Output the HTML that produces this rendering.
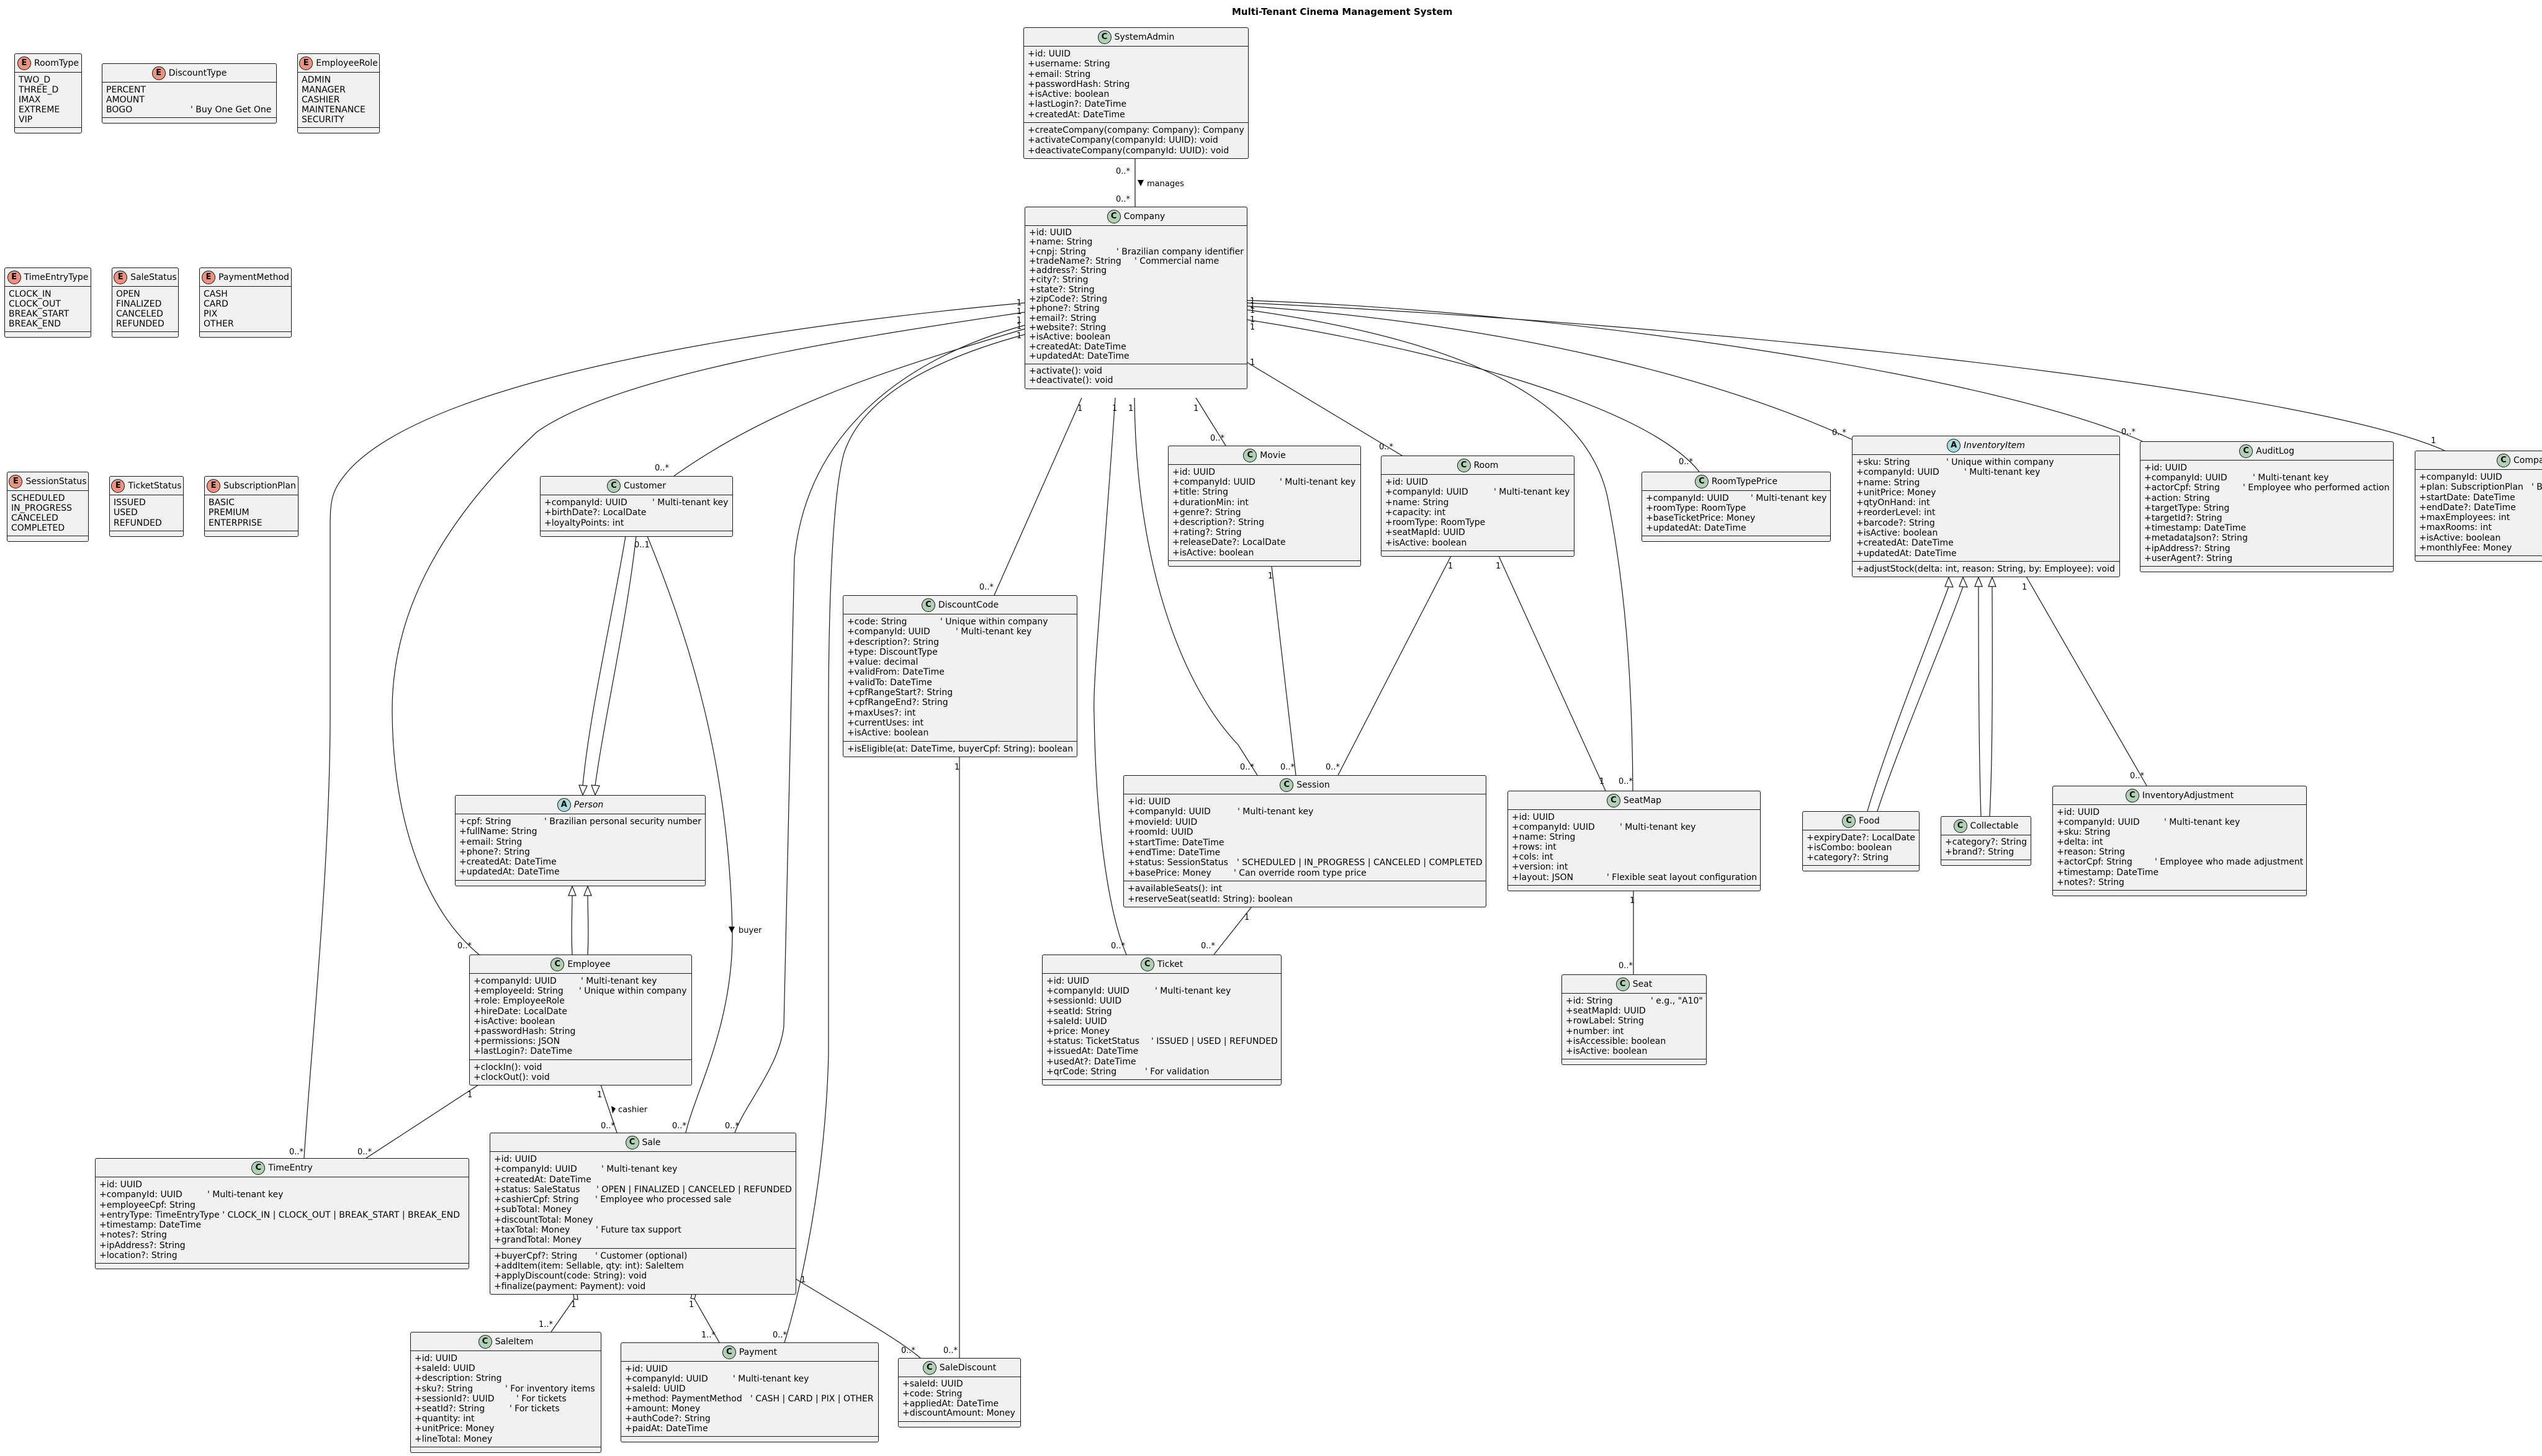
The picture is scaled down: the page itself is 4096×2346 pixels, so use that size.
<!DOCTYPE html>
<html><head><meta charset="utf-8">
<style>
html,body{margin:0;padding:0;background:#fff;overflow:hidden;}
body{width:4096px;height:2346px;position:relative;overflow:hidden;font-family:"DejaVu Sans","Liberation Sans",sans-serif;color:#000;}
.b{position:absolute;background:#F1F1F1;border:1px solid #181818;border-radius:3px;font-size:14px;box-sizing:content-box;}
.h{height:29px;display:flex;align-items:center;justify-content:center;gap:5px;font-size:14px;}
.ic{width:20px;height:20px;border-radius:50%;border:1px solid #181818;display:inline-flex;align-items:center;justify-content:center;font-weight:bold;font-size:13px;font-family:"DejaVu Sans",sans-serif;}
.c .ic{background:#ADD1B2;}
.e .ic{background:#EB937F;}
.a .ic{background:#A9DCDF;}
.a .h span.n{font-style:italic;}
.s{border-top:1px solid #181818;padding:4px 6px;}
.s.em{height:0;padding:4px 0;}
.r{position:relative;height:var(--lh);line-height:var(--lh);white-space:pre;}
.r i{position:absolute;top:0;font-style:normal;white-space:pre;}
svg{position:absolute;left:0;top:0;}
.t{position:absolute;font-weight:bold;font-size:15px;white-space:nowrap;}
.clip{position:absolute;left:3891px;top:700px;width:205px;height:260px;overflow:hidden;}
</style></head><body>
<div class="t" style="left:1985px;top:10px;">Multi-Tenant Cinema Management System</div>

<svg width="4096" height="2346" viewBox="0 0 4096 2346" font-family="DejaVu Sans, Liberation Sans, sans-serif" font-size="13">
<g fill="none" stroke="#181818" stroke-width="1.2">
<path d="M1829 255 L1829 333"/>
<path d="M1651 488 C1300 520 700 600 560 760 C535 790 532 803 532 850 L532 1150 C532 1400 500 1700 490 1866"/>
<path d="M1651 503 C1400 540 1000 600 865 696 C700 850 630 1000 632 1150 C634 1350 700 1480 772 1538"/>
<path d="M1651 530 C1450 590 1250 650 1086 767"/>
<path d="M1651 524 C1450 580 1300 700 1280 900 L1263 1654 C1255 1720 1200 1780 1184 1825"/>
<path d="M1651 539 C1500 580 1390 640 1360 730 C1340 800 1335 1000 1335 1150 L1335 1699 C1330 1900 1290 2080 1264 2163"/>
<path d="M1043 864 C1120 1050 1175 1250 1180 1500 C1182 1650 1120 1760 1105 1825"/>
<path d="M1008 864 C985 1000 950 1150 939 1266"/>
<path d="M1025 864 C1010 1000 975 1150 959 1266"/>
<path d="M922 1538 C920 1500 922 1470 922 1442"/>
<path d="M947 1538 C949 1500 947 1470 947 1442"/>
<path d="M771 1748 L590 1866"/>
<path d="M968 1748 L994 1825"/>
<path d="M925 2093 L888 2146"/>
<path d="M1119 2093 L1159 2163"/>
<path d="M1281 2060 C1380 2120 1450 2160 1483 2188"/>
<path d="M1546 1219 L1546 2188"/>
<path d="M1743 641 L1602 959"/>
<path d="M1797 641 C1780 900 1760 1100 1763 1150 C1766 1350 1790 1480 1815 1538"/>
<path d="M1828 641 C1830 900 1900 1100 1995 1200 L2026 1249"/>
<path d="M1927 641 L1975 718"/>
<path d="M2049 912 L2088 1249"/>
<path d="M2338 896 L2156 1249"/>
<path d="M2415 896 L2587 1274"/>
<path d="M2008 583 L2259 734"/>
<path d="M2008 499 C2300 540 2550 620 2590 800 C2620 950 2630 1100 2631 1274"/>
<path d="M2008 515 C2300 560 2650 650 2738 760"/>
<path d="M2008 493 C2400 520 2750 600 2984 708"/>
<path d="M2008 484 C2500 500 3200 600 3452 711"/>
<path d="M2008 488 C2700 520 3700 620 3939 726"/>
<path d="M3265 929 L3459 1266"/>
<path d="M3009 1307 C3040 1200 3120 1000 3140 945"/>
<path d="M3025 1307 C3060 1200 3145 1000 3163 945"/>
<path d="M3192 1315 C3188 1200 3188 1000 3188 945"/>
<path d="M3206 1315 C3212 1200 3210 1000 3210 945"/>
<path d="M2017 1461 L1956 1538"/>
<path d="M2632 1435 L2632 1570"/>
</g>
<g fill="#fff" stroke="#181818" stroke-width="1.2">
<polygon points="939,1281 933,1265 946,1266"/>
<polygon points="959,1281 953,1265 966,1266"/>
<polygon points="922,1428 916,1443 928,1443"/>
<polygon points="947,1428 941,1443 953,1443"/>
<polygon points="3140,930 3134,945 3147,946"/>
<polygon points="3163,930 3157,945 3170,946"/>
<polygon points="3188,930 3182,945 3194,945"/>
<polygon points="3210,930 3204,945 3216,945"/>
<polygon points="930,2085 931,2094 925,2093 924,2085"/>
<polygon points="1115,2085 1121,2086 1119,2093 1113,2092"/>
</g>
<g fill="#000">
<polygon points="1833,290 1843,290 1838,300"/>
<polygon points="1174,1493 1184,1493 1179,1503"/>
<polygon points="985,1782 992,1786 987,1794"/>
</g>
<g fill="#000">
<text x="1798" y="280">0..*</text>
<text x="1798" y="325">0..*</text>
<text x="1848" y="300">manages</text>
<text x="1638" y="492">1</text><text x="1638" y="506">1</text><text x="1638" y="520">1</text><text x="1638" y="530">1</text><text x="1638" y="545">1</text>
<text x="2014" y="489">1</text><text x="2014" y="497">1</text><text x="2014" y="504">1</text><text x="2014" y="519">1</text><text x="2014" y="531">1</text>
<text x="2014" y="588">1</text>
<text x="1736" y="662">1</text><text x="1792" y="662">1</text><text x="1818" y="662">1</text><text x="1923" y="662">1</text>
<text x="466" y="1860">0..*</text><text x="576" y="1860">0..*</text>
<text x="753" y="1768">1</text>
<text x="737" y="1528">0..*</text>
<text x="1055" y="758">0..*</text>
<text x="1022" y="882">0..1</text>
<text x="1190" y="1503">buyer</text>
<text x="962" y="1768">1</text>
<text x="996" y="1792">cashier</text>
<text x="968" y="1818">0..*</text><text x="1083" y="1818">0..*</text><text x="1168" y="1818">0..*</text>
<text x="920" y="2106">1</text><text x="1110" y="2106">1</text>
<text x="868" y="2138">1..*</text><text x="1130" y="2155">1..*</text><text x="1245" y="2155">0..*</text>
<text x="1290" y="2066">1</text>
<text x="1452" y="2180">0..*</text><text x="1520" y="2180">0..*</text>
<text x="1538" y="1240">1</text>
<text x="1578" y="950">0..*</text>
<text x="1950" y="710">0..*</text>
<text x="2222" y="724">0..*</text>
<text x="2043" y="932">1</text><text x="2333" y="916">1</text><text x="2410" y="916">1</text>
<text x="1998" y="1240">0..*</text><text x="2063" y="1240">0..*</text><text x="2136" y="1240">0..*</text>
<text x="2577" y="1263">1</text><text x="2608" y="1263">0..*</text>
<text x="2005" y="1482">1</text>
<text x="1790" y="1528">0..*</text><text x="1935" y="1528">0..*</text>
<text x="2626" y="1455">1</text><text x="2608" y="1560">0..*</text>
<text x="2705" y="748">0..*</text>
<text x="2952" y="701">0..*</text>
<text x="3418" y="700">0..*</text>
<text x="3917" y="714">1</text>
<text x="3258" y="950">1</text>
<text x="3432" y="1254">0..*</text>
</g>
</svg>

<!-- Enums -->
<div class="b e" style="left:23px;top:86px;width:107px;--lh:16px;"><div class="h"><span class="ic">E</span><span class="n">RoomType</span></div>
<div class="s"><div class="r">TWO_D</div><div class="r">THREE_D</div><div class="r">IMAX</div><div class="r">EXTREME</div><div class="r">VIP</div></div><div class="s em"></div></div>

<div class="b e" style="left:164px;top:102px;width:280px;--lh:16px;"><div class="h"><span class="ic">E</span><span class="n">DiscountType</span></div>
<div class="s"><div class="r">PERCENT</div><div class="r">AMOUNT</div><div class="r">BOGO<i style="left:136px">' Buy One Get One</i></div></div><div class="s em"></div></div>

<div class="b e" style="left:479px;top:86px;width:131px;--lh:16px;"><div class="h"><span class="ic">E</span><span class="n">EmployeeRole</span></div>
<div class="s"><div class="r">ADMIN</div><div class="r">MANAGER</div><div class="r">CASHIER</div><div class="r">MAINTENANCE</div><div class="r">SECURITY</div></div><div class="s em"></div></div>

<div class="b e" style="left:7px;top:431px;width:138px;--lh:16px;"><div class="h"><span class="ic">E</span><span class="n">TimeEntryType</span></div>
<div class="s"><div class="r">CLOCK_IN</div><div class="r">CLOCK_OUT</div><div class="r">BREAK_START</div><div class="r">BREAK_END</div></div><div class="s em"></div></div>

<div class="b e" style="left:180px;top:431px;width:106px;--lh:16px;"><div class="h"><span class="ic">E</span><span class="n">SaleStatus</span></div>
<div class="s"><div class="r">OPEN</div><div class="r">FINALIZED</div><div class="r">CANCELED</div><div class="r">REFUNDED</div></div><div class="s em"></div></div>

<div class="b e" style="left:321px;top:431px;width:147px;--lh:16px;"><div class="h"><span class="ic">E</span><span class="n">PaymentMethod</span></div>
<div class="s"><div class="r">CASH</div><div class="r">CARD</div><div class="r">PIX</div><div class="r">OTHER</div></div><div class="s em"></div></div>

<div class="b e" style="left:11px;top:760px;width:130px;--lh:16px;"><div class="h"><span class="ic">E</span><span class="n">SessionStatus</span></div>
<div class="s"><div class="r">SCHEDULED</div><div class="r">IN_PROGRESS</div><div class="r">CANCELED</div><div class="r">COMPLETED</div></div><div class="s em"></div></div>

<div class="b e" style="left:176px;top:767px;width:118px;--lh:16.3px;"><div class="h"><span class="ic">E</span><span class="n">TicketStatus</span></div>
<div class="s"><div class="r">ISSUED</div><div class="r">USED</div><div class="r">REFUNDED</div></div><div class="s em"></div></div>

<div class="b e" style="left:329px;top:767px;width:150px;--lh:16.3px;"><div class="h"><span class="ic">E</span><span class="n">SubscriptionPlan</span></div>
<div class="s"><div class="r">BASIC</div><div class="r">PREMIUM</div><div class="r">ENTERPRISE</div></div><div class="s em"></div></div>

<!-- Classes -->
<div class="b c" style="left:1649px;top:44px;width:361px;--lh:16.3px;"><div class="h"><span class="ic">C</span><span class="n">SystemAdmin</span></div>
<div class="s"><div class="r">+id: UUID</div><div class="r">+username: String</div><div class="r">+email: String</div><div class="r">+passwordHash: String</div><div class="r">+isActive: boolean</div><div class="r">+lastLogin?: DateTime</div><div class="r">+createdAt: DateTime</div></div>
<div class="s"><div class="r">+createCompany(company: Company): Company</div><div class="r">+activateCompany(companyId: UUID): void</div><div class="r">+deactivateCompany(companyId: UUID): void</div></div></div>

<div class="b c" style="left:1651px;top:333px;width:357px;--lh:15.3px;"><div class="h"><span class="ic">C</span><span class="n">Company</span></div>
<div class="s"><div class="r">+id: UUID</div><div class="r">+name: String</div><div class="r">+cnpj: String<i style="left:141px">' Brazilian company identifier</i></div><div class="r">+tradeName?: String<i style="left:170px">' Commercial name</i></div><div class="r">+address?: String</div><div class="r">+city?: String</div><div class="r">+state?: String</div><div class="r">+zipCode?: String</div><div class="r">+phone?: String</div><div class="r">+email?: String</div><div class="r">+website?: String</div><div class="r">+isActive: boolean</div><div class="r">+createdAt: DateTime</div><div class="r">+updatedAt: DateTime</div></div>
<div class="s"><div class="r">+activate(): void</div><div class="r">+deactivate(): void</div></div></div>

<div class="b c" style="left:870px;top:767px;width:309px;--lh:16.3px;"><div class="h"><span class="ic">C</span><span class="n">Customer</span></div>
<div class="s"><div class="r">+companyId: UUID<i style="left:174px">' Multi-tenant key</i></div><div class="r">+birthDate?: LocalDate</div><div class="r">+loyaltyPoints: int</div></div><div class="s em"></div></div>

<div class="b a" style="left:733px;top:1281px;width:402px;--lh:16.3px;"><div class="h"><span class="ic">A</span><span class="n">Person</span></div>
<div class="s"><div class="r">+cpf: String<i style="left:137px">' Brazilian personal security number</i></div><div class="r">+fullName: String</div><div class="r">+email: String</div><div class="r">+phone?: String</div><div class="r">+createdAt: DateTime</div><div class="r">+updatedAt: DateTime</div></div><div class="s em"></div></div>

<div class="b c" style="left:756px;top:1538px;width:357px;--lh:16.2px;"><div class="h"><span class="ic">C</span><span class="n">Employee</span></div>
<div class="s"><div class="r">+companyId: UUID<i style="left:173px">' Multi-tenant key</i></div><div class="r">+employeeId: String<i style="left:170px">' Unique within company</i></div><div class="r">+role: EmployeeRole</div><div class="r">+hireDate: LocalDate</div><div class="r">+isActive: boolean</div><div class="r">+passwordHash: String</div><div class="r">+permissions: JSON</div><div class="r">+lastLogin?: DateTime</div></div>
<div class="s"><div class="r">+clockIn(): void</div><div class="r">+clockOut(): void</div></div></div>

<div class="b c" style="left:153px;top:1866px;width:601px;--lh:16.25px;"><div class="h"><span class="ic">C</span><span class="n">TimeEntry</span></div>
<div class="s"><div class="r">+id: UUID</div><div class="r">+companyId: UUID<i style="left:174px">' Multi-tenant key</i></div><div class="r">+employeeCpf: String</div><div class="r">+entryType: TimeEntryType ' CLOCK_IN | CLOCK_OUT | BREAK_START | BREAK_END</div><div class="r">+timestamp: DateTime</div><div class="r">+notes?: String</div><div class="r">+ipAddress?: String</div><div class="r">+location?: String</div></div><div class="s em"></div></div>

<div class="b c" style="left:789px;top:1825px;width:492px;--lh:16.3px;"><div class="h"><span class="ic">C</span><span class="n">Sale</span></div>
<div class="s"><div class="r">+id: UUID</div><div class="r">+companyId: UUID<i style="left:173px">' Multi-tenant key</i></div><div class="r">+createdAt: DateTime</div><div class="r">+status: SaleStatus<i style="left:165px">' OPEN | FINALIZED | CANCELED | REFUNDED</i></div><div class="r">+cashierCpf: String<i style="left:163px">' Employee who processed sale</i></div><div class="r">+subTotal: Money</div><div class="r">+discountTotal: Money</div><div class="r">+taxTotal: Money<i style="left:164px">' Future tax support</i></div><div class="r">+grandTotal: Money</div></div>
<div class="s"><div class="r">+buyerCpf?: String<i style="left:163px">' Customer (optional)</i></div><div class="r">+addItem(item: Sellable, qty: int): SaleItem</div><div class="r">+applyDiscount(code: String): void</div><div class="r">+finalize(payment: Payment): void</div></div></div>

<div class="b c" style="left:661px;top:2146px;width:306px;--lh:16.2px;"><div class="h"><span class="ic">C</span><span class="n">SaleItem</span></div>
<div class="s"><div class="r">+id: UUID</div><div class="r">+saleId: UUID</div><div class="r">+description: String</div><div class="r">+sku?: String<i style="left:146px">' For inventory items</i></div><div class="r">+sessionId?: UUID<i style="left:164px">' For tickets</i></div><div class="r">+seatId?: String<i style="left:153px">' For tickets</i></div><div class="r">+quantity: int</div><div class="r">+unitPrice: Money</div><div class="r">+lineTotal: Money</div></div><div class="s em"></div></div>

<div class="b c" style="left:1000px;top:2163px;width:414px;--lh:16px;"><div class="h"><span class="ic">C</span><span class="n">Payment</span></div>
<div class="s"><div class="r">+id: UUID</div><div class="r">+companyId: UUID<i style="left:174px">' Multi-tenant key</i></div><div class="r">+saleId: UUID</div><div class="r">+method: PaymentMethod<i style="left:202px">' CASH | CARD | PIX | OTHER</i></div><div class="r">+amount: Money</div><div class="r">+authCode?: String</div><div class="r">+paidAt: DateTime</div></div><div class="s em"></div></div>

<div class="b c" style="left:1447px;top:2188px;width:196px;--lh:15.75px;"><div class="h"><span class="ic">C</span><span class="n">SaleDiscount</span></div>
<div class="s"><div class="r">+saleId: UUID</div><div class="r">+code: String</div><div class="r">+appliedAt: DateTime</div><div class="r">+discountAmount: Money</div></div><div class="s em"></div></div>

<div class="b c" style="left:1358px;top:959px;width:376px;--lh:16.3px;"><div class="h"><span class="ic">C</span><span class="n">DiscountCode</span></div>
<div class="s"><div class="r">+code: String<i style="left:150px">' Unique within company</i></div><div class="r">+companyId: UUID<i style="left:175px">' Multi-tenant key</i></div><div class="r">+description?: String</div><div class="r">+type: DiscountType</div><div class="r">+value: decimal</div><div class="r">+validFrom: DateTime</div><div class="r">+validTo: DateTime</div><div class="r">+cpfRangeStart?: String</div><div class="r">+cpfRangeEnd?: String</div><div class="r">+maxUses?: int</div><div class="r">+currentUses: int</div><div class="r">+isActive: boolean</div></div>
<div class="s"><div class="r">+isEligible(at: DateTime, buyerCpf: String): boolean</div></div></div>

<div class="b c" style="left:1882px;top:718px;width:309px;--lh:16.2px;"><div class="h"><span class="ic">C</span><span class="n">Movie</span></div>
<div class="s"><div class="r">+id: UUID</div><div class="r">+companyId: UUID<i style="left:173px">' Multi-tenant key</i></div><div class="r">+title: String</div><div class="r">+durationMin: int</div><div class="r">+genre?: String</div><div class="r">+description?: String</div><div class="r">+rating?: String</div><div class="r">+releaseDate?: LocalDate</div><div class="r">+isActive: boolean</div></div><div class="s em"></div></div>

<div class="b c" style="left:2225px;top:734px;width:310px;--lh:16.3px;"><div class="h"><span class="ic">C</span><span class="n">Room</span></div>
<div class="s"><div class="r">+id: UUID</div><div class="r">+companyId: UUID<i style="left:175px">' Multi-tenant key</i></div><div class="r">+name: String</div><div class="r">+capacity: int</div><div class="r">+roomType: RoomType</div><div class="r">+seatMapId: UUID</div><div class="r">+isActive: boolean</div></div><div class="s em"></div></div>

<div class="b c" style="left:1810px;top:1249px;width:583px;--lh:16.4px;"><div class="h"><span class="ic">C</span><span class="n">Session</span></div>
<div class="s"><div class="r">+id: UUID</div><div class="r">+companyId: UUID<i style="left:177px">' Multi-tenant key</i></div><div class="r">+movieId: UUID</div><div class="r">+roomId: UUID</div><div class="r">+startTime: DateTime</div><div class="r">+endTime: DateTime</div><div class="r">+status: SessionStatus<i style="left:176px">' SCHEDULED | IN_PROGRESS | CANCELED | COMPLETED</i></div><div class="r">+basePrice: Money<i style="left:171px">' Can override room type price</i></div></div>
<div class="s"><div class="r">+availableSeats(): int</div><div class="r">+reserveSeat(seatId: String): boolean</div></div></div>

<div class="b c" style="left:1679px;top:1538px;width:384px;--lh:16.2px;"><div class="h"><span class="ic">C</span><span class="n">Ticket</span></div>
<div class="s"><div class="r">+id: UUID</div><div class="r">+companyId: UUID<i style="left:175px">' Multi-tenant key</i></div><div class="r">+sessionId: UUID</div><div class="r">+seatId: String</div><div class="r">+saleId: UUID</div><div class="r">+price: Money</div><div class="r">+status: TicketStatus<i style="left:169px">' ISSUED | USED | REFUNDED</i></div><div class="r">+issuedAt: DateTime</div><div class="r">+usedAt?: DateTime</div><div class="r">+qrCode: String<i style="left:159px">' For validation</i></div></div><div class="s em"></div></div>

<div class="b c" style="left:2429px;top:1274px;width:406px;--lh:16.1px;"><div class="h"><span class="ic">C</span><span class="n">SeatMap</span></div>
<div class="s"><div class="r">+id: UUID</div><div class="r">+companyId: UUID<i style="left:174px">' Multi-tenant key</i></div><div class="r">+name: String</div><div class="r">+rows: int</div><div class="r">+cols: int</div><div class="r">+version: int</div><div class="r">+layout: JSON<i style="left:153px">' Flexible seat layout configuration</i></div></div><div class="s em"></div></div>

<div class="b c" style="left:2516px;top:1570px;width:232px;--lh:16.2px;"><div class="h"><span class="ic">C</span><span class="n">Seat</span></div>
<div class="s"><div class="r">+id: String<i style="left:137px">' e.g., "A10"</i></div><div class="r">+seatMapId: UUID</div><div class="r">+rowLabel: String</div><div class="r">+number: int</div><div class="r">+isAccessible: boolean</div><div class="r">+isActive: boolean</div></div><div class="s em"></div></div>

<div class="b c" style="left:2645px;top:760px;width:303px;--lh:16px;"><div class="h"><span class="ic">C</span><span class="n">RoomTypePrice</span></div>
<div class="s"><div class="r">+companyId: UUID<i style="left:169px">' Multi-tenant key</i></div><div class="r">+roomType: RoomType</div><div class="r">+baseTicketPrice: Money</div><div class="r">+updatedAt: DateTime</div></div><div class="s em"></div></div>

<div class="b a" style="left:2984px;top:702px;width:430px;--lh:16.3px;"><div class="h"><span class="ic">A</span><span class="n">InventoryItem</span></div>
<div class="s"><div class="r">+sku: String<i style="left:145px">' Unique within company</i></div><div class="r">+companyId: UUID<i style="left:174px">' Multi-tenant key</i></div><div class="r">+name: String</div><div class="r">+unitPrice: Money</div><div class="r">+qtyOnHand: int</div><div class="r">+reorderLevel: int</div><div class="r">+barcode?: String</div><div class="r">+isActive: boolean</div><div class="r">+createdAt: DateTime</div><div class="r">+updatedAt: DateTime</div></div>
<div class="s"><div class="r">+adjustStock(delta: int, reason: String, by: Employee): void</div></div></div>

<div class="b c" style="left:3448px;top:711px;width:407px;--lh:16.2px;"><div class="h"><span class="ic">C</span><span class="n">AuditLog</span></div>
<div class="s"><div class="r">+id: UUID</div><div class="r">+companyId: UUID<i style="left:175px">' Multi-tenant key</i></div><div class="r">+actorCpf: String<i style="left:159px">' Employee who performed action</i></div><div class="r">+action: String</div><div class="r">+targetType: String</div><div class="r">+targetId?: String</div><div class="r">+timestamp: DateTime</div><div class="r">+metadataJson?: String</div><div class="r">+ipAddress?: String</div><div class="r">+userAgent?: String</div></div><div class="s em"></div></div>

<div class="clip">
<div class="b c" style="left:0px;top:26px;width:380px;--lh:16.25px;"><div class="h" style="justify-content:flex-start;padding-left:131px;"><span class="ic">C</span><span class="n">Compan</span></div>
<div class="s"><div class="r">+companyId: UUID</div><div class="r">+plan: SubscriptionPlan<i style="left:181px">' B</i></div><div class="r">+startDate: DateTime</div><div class="r">+endDate?: DateTime</div><div class="r">+maxEmployees: int</div><div class="r">+maxRooms: int</div><div class="r">+isActive: boolean</div><div class="r">+monthlyFee: Money</div></div><div class="s em"></div></div>
</div>

<div class="b c" style="left:2904px;top:1307px;width:187px;--lh:16px;"><div class="h"><span class="ic">C</span><span class="n">Food</span></div>
<div class="s"><div class="r">+expiryDate?: LocalDate</div><div class="r">+isCombo: boolean</div><div class="r">+category?: String</div></div><div class="s em"></div></div>

<div class="b c" style="left:3127px;top:1315px;width:144px;--lh:15.5px;"><div class="h"><span class="ic">C</span><span class="n">Collectable</span></div>
<div class="s"><div class="r">+category?: String</div><div class="r">+brand?: String</div></div><div class="s em"></div></div>

<div class="b c" style="left:3307px;top:1266px;width:408px;--lh:16.1px;"><div class="h"><span class="ic">C</span><span class="n">InventoryAdjustment</span></div>
<div class="s"><div class="r">+id: UUID</div><div class="r">+companyId: UUID<i style="left:173px">' Multi-tenant key</i></div><div class="r">+sku: String</div><div class="r">+delta: int</div><div class="r">+reason: String</div><div class="r">+actorCpf: String<i style="left:158px">' Employee who made adjustment</i></div><div class="r">+timestamp: DateTime</div><div class="r">+notes?: String</div></div><div class="s em"></div></div>

</body></html>
